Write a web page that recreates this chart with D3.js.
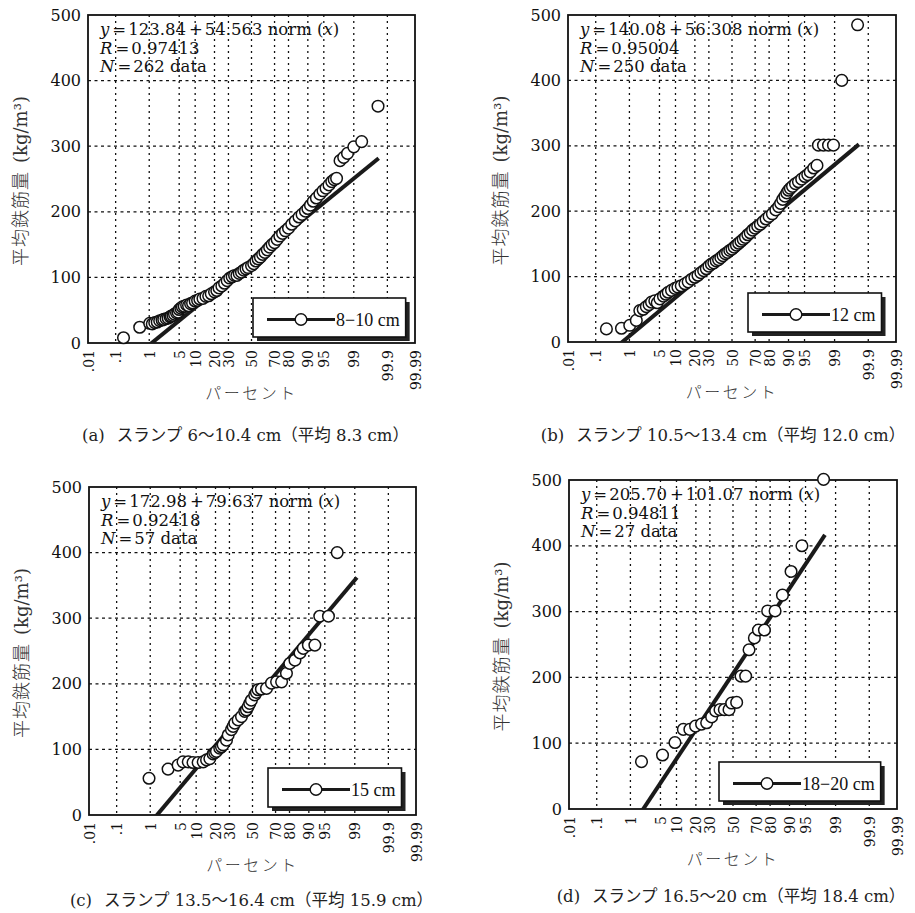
<!DOCTYPE html>
<html lang="ja">
<head>
<meta charset="UTF-8">
<title>平均鉄筋量の正規確率プロット</title>
<script src="https://d3js.org/d3.v7.min.js"></script>
<style>
  body { margin: 0; background: #fff; }
  svg { display: block; }
  .tick text { font-family: "DejaVu Serif", serif; fill: #111; }
</style>
</head>
<body>
<svg id="chart" width="915" height="913"></svg>
<script>
// ---- data ----
const tickPercents = [0.01, 0.1, 1, 5, 10, 20, 30, 50, 70, 80, 90, 95, 99, 99.9, 99.99];
const tickLabels = [".01", ".1", "1", "5", "10", "20", "30", "50", "70", "80", "90", "95", "99", "99.9", "99.99"];
const gridPercents = [0.1, 1, 5, 10, 20, 30, 50, 70, 80, 90, 95, 99, 99.9];
const yTicks = [0, 100, 200, 300, 400, 500];
const yGrid = [100, 200, 300, 400];

const letters = ["a", "b", "c", "d"];
const legendLabels = ["8−10 cm", "12 cm", "15 cm", "18−20 cm"];
const captions = [
  "スランプ 6～10.4 cm（平均 8.3 cm）",
  "スランプ 10.5～13.4 cm（平均 12.0 cm）",
  "スランプ 13.5～16.4 cm（平均 15.9 cm）",
  "スランプ 16.5～20 cm（平均 18.4 cm）"
];
const intercepts = [123.84, 140.08, 172.98, 205.70];
const slopes = [54.563, 56.308, 79.637, 101.07];
const interceptText = ["123.84", "140.08", "172.98", "205.70"];
const slopeText = ["54.563", "56.308", "79.637", "101.07"];
const rValues = ["0.97413", "0.95004", "0.92418", "0.94811"];
const nValues = [262, 250, 57, 27];

// [percent, kg/m3]
const pointsA = [[0.18,8],[0.55,24],[1.03,30],[1.2,29],[1.39,31],[1.6,32],[1.84,34],[2.1,35],[2.3,36],[2.6,37],[2.9,38],[3.2,40],[3.4,41],[3.7,42],[4.0,44],[4.4,46],[4.75,47],[5.0,51],[5.4,53],[5.8,55],[6.3,56],[7,58],[7.6,57],[8.3,60],[9,61],[10,64],[11,65],[12,67],[13.5,68],[15,71],[16.5,72],[18,75],[20,78],[21.5,80],[23,84],[25,87],[27,91],[29,95],[31,99],[33,101],[35,103],[37,103],[39,106],[41,108],[43,111],[45,113],[47,115],[50,118],[52,121],[54,125],[56,128],[58,131],[60,135],[62,138],[64,142],[66,146],[68,150],[70,153],[72,158],[74,163],[76,167],[78,171],[80,175],[82,181],[84,186],[86,192],[87.5,196],[89,201],[90,205],[91,210],[92,216],[93,221],[94,227],[94.8,232],[95.5,236],[96.1,241],[96.6,246],[97.0,249],[97.35,251],[97.8,278],[98.2,283],[98.55,289],[99.0,299],[99.39,307],[99.8,361]];
const pointsB = [[0.22,20],[0.61,21],[1.02,25.5],[1.5,33],[1.83,48],[2.2,50],[2.6,54],[3.0,57],[3.4,61],[4.0,63],[4.5,60],[5.1,66],[6,70],[6.7,73],[7.4,76],[8.5,79],[9.8,82],[11,84],[12.5,86],[14.3,89],[16,92],[18,96],[20,99],[22,102],[24,106],[26,109],[28,112],[30,116],[32,119],[34,121],[36,124],[38,126],[40,129],[42,132],[44,135],[46,137],[48,140],[50,142],[52,145],[54,148],[56,151],[58,154],[60,157],[62,160],[64,164],[66,167],[68,171],[70,174],[72,177],[74,180],[76,184],[78,188],[80,192],[82,196],[84,202],[85.5,207],[86.5,212],[87.5,218],[88.5,223],[89.3,228],[90,232],[90.7,235],[91.5,238],[92.5,242],[93.4,245],[94.3,249],[95.1,253],[95.7,256],[96.2,260],[96.8,266],[97.3,270],[97.5,301],[98.1,301],[98.57,301],[98.93,301],[99.36,400],[99.78,485]];
const pointsC = [[0.93,56],[2.74,70],[4.53,76],[5.7,81],[7.2,81],[8.8,80],[10.8,80],[13.1,81],[14.8,84],[16.6,86],[18.5,93],[19.5,95],[20.6,97],[22.8,102],[24,104],[25.2,107],[27.7,114],[29,122],[31.6,130],[33,135],[34.4,140],[37.2,145],[40.1,150],[43,158],[44.5,160],[46,165],[47.5,170],[49,175],[52,183],[53.5,187],[55,191],[58,192],[62.5,193],[66.7,201],[70.8,203],[74.6,203],[78,216],[80.2,231],[83.3,236],[86,247],[87.6,254],[89.8,259],[92.2,259],[93.7,303],[95.8,303],[97.3,400]];
const pointsD = [[1.9,72],[5.5,82],[9.4,101],[13,121],[16.4,121],[19.8,126],[23.8,129],[27.5,131],[31.4,140],[34.7,149],[38.4,151],[42.2,151],[46.4,151],[48.8,161],[53.3,162],[57.2,202],[61.3,202],[64.2,242],[68.6,260],[71.8,272],[76.2,272],[78.4,301],[83,301],[86.9,325],[90.6,361],[94.1,400],[98,501]];
const series = [pointsA, pointsB, pointsC, pointsD];

// ---- layout ----
const panels = [
  { left: 88, top: 15, right: 415, bottom: 343 },
  { left: 568, top: 15, right: 896, bottom: 342 },
  { left: 89, top: 487, right: 416, bottom: 815 },
  { left: 569, top: 480, right: 897, bottom: 809 }
];
const legendAt = [[253, 298], [748, 293], [268, 768], [719, 762]];
const captionY = [441, 441, 906, 902];
const captionDx = [-6, -9, -1, -2];
const serif = "DejaVu Serif";
const jp = "Noto Sans CJK JP";

// inverse of the standard normal CDF (Acklam)
function probit(p) {
  const a = [-39.69683028665376, 220.9460984245205, -275.9285104469687, 138.3577518672690, -30.66479806614716, 2.506628277459239];
  const b = [-54.47609879822406, 161.5858368580409, -155.6989798598866, 66.80131188771972, -13.28068155288572];
  const c = [-0.007784894002430293, -0.3223964580411365, -2.400758277161838, -2.549732539343734, 4.374664141464968, 2.938163982698783];
  const d = [0.007784695709041462, 0.3224671290700398, 2.445134137142996, 3.754408661907416];
  const pl = 0.02425;
  let q, r;
  if (p < pl) {
    q = Math.sqrt(-2 * Math.log(p));
    return (((((c[0]*q+c[1])*q+c[2])*q+c[3])*q+c[4])*q+c[5]) / ((((d[0]*q+d[1])*q+d[2])*q+d[3])*q+1);
  }
  if (p > 1 - pl) {
    q = Math.sqrt(-2 * Math.log(1 - p));
    return -(((((c[0]*q+c[1])*q+c[2])*q+c[3])*q+c[4])*q+c[5]) / ((((d[0]*q+d[1])*q+d[2])*q+d[3])*q+1);
  }
  q = p - 0.5; r = q * q;
  return (((((a[0]*r+a[1])*r+a[2])*r+a[3])*r+a[4])*r+a[5])*q / (((((b[0]*r+b[1])*r+b[2])*r+b[3])*r+b[4])*r+1);
}

const svg = d3.select("#chart");
svg.append("rect").attr("width", 915).attr("height", 913).attr("fill", "#fff");

// text with italic pieces and padded operators
function richText(parent, x, y, parts, size) {
  const t = parent.append("text").attr("x", x).attr("y", y)
    .attr("font-family", serif).attr("font-size", size).attr("fill", "#111");
  parts.forEach(([s, kind]) => {
    const ts = t.append("tspan").text(s);
    if (kind === "i") ts.attr("font-style", "italic");
    if (kind === "op") ts.attr("dx", 3);
    if (kind === "after") ts.attr("dx", 2);
  });
  return t;
}

panels.forEach((pn, i) => {
  const g = svg.append("g");
  const x = d3.scaleLinear().domain([probit(0.0001), probit(0.9999)]).range([pn.left, pn.right]);
  const y = d3.scaleLinear().domain([0, 500]).range([pn.bottom, pn.top]);
  const px = p => x(probit(p / 100));

  g.append("clipPath").attr("id", "clip" + i)
    .append("rect").attr("x", pn.left).attr("y", pn.top)
    .attr("width", pn.right - pn.left).attr("height", pn.bottom - pn.top);

  // grid
  g.selectAll(".vg").data(gridPercents).join("line")
    .attr("x1", d => px(d)).attr("x2", d => px(d))
    .attr("y1", pn.top).attr("y2", pn.bottom)
    .attr("stroke", "#111").attr("stroke-width", 1.3).attr("stroke-dasharray", "2,4");
  g.selectAll(".hg").data(yGrid).join("line")
    .attr("x1", pn.left).attr("x2", pn.right)
    .attr("y1", d => y(d)).attr("y2", d => y(d))
    .attr("stroke", "#111").attr("stroke-width", 1.3).attr("stroke-dasharray", "3,3.5");

  // axes
  const ya = g.append("g").attr("transform", `translate(${pn.left},0)`)
    .call(d3.axisLeft(y).tickValues(yTicks).tickSize(0).tickPadding(7));
  ya.select(".domain").remove();
  ya.selectAll("text").attr("font-size", 16);

  const xa = g.append("g").attr("transform", `translate(0,${pn.bottom})`)
    .call(d3.axisBottom(x).tickValues(tickPercents.map(p => probit(p / 100)))
      .tickFormat((d, k) => tickLabels[k]).tickSize(0));
  xa.select(".domain").remove();
  xa.selectAll("text").attr("font-size", 14)
    .attr("transform", "rotate(-90)").attr("text-anchor", "end")
    .attr("x", -7).attr("y", 0).attr("dy", "0.36em");

  // frame
  g.append("rect").attr("x", pn.left).attr("y", pn.top)
    .attr("width", pn.right - pn.left).attr("height", pn.bottom - pn.top)
    .attr("fill", "none").attr("stroke", "#111").attr("stroke-width", 1.8);

  // fitted line between first and last plotting positions
  const n = nValues[i];
  const z0 = probit(0.5 / n), z1 = probit(1 - 0.5 / n);
  g.append("line").attr("clip-path", `url(#clip${i})`)
    .attr("x1", x(z0)).attr("y1", y(intercepts[i] + slopes[i] * z0))
    .attr("x2", x(z1)).attr("y2", y(intercepts[i] + slopes[i] * z1))
    .attr("stroke", "#1a1a1a").attr("stroke-width", 4);

  // points
  g.selectAll("circle.pt").data(series[i]).join("circle")
    .attr("class", "pt")
    .attr("cx", d => px(d[0])).attr("cy", d => y(d[1])).attr("r", 5.8)
    .attr("fill", "#fff").attr("stroke", "#111").attr("stroke-width", 1.5);

  // equation block
  const ex = pn.left + 12, ey = pn.top + 20;
  richText(g, ex, ey, [["y", "i"], ["=", "op"], [interceptText[i], "after"], ["+", "op"], [slopeText[i] + " norm (", "after"], ["x", "i"], [")"]], 16.5);
  richText(g, ex, ey + 18.6, [["R", "i"], ["=", "op"], [rValues[i], "after"]], 16.5);
  richText(g, ex, ey + 37.2, [["N", "i"], ["=", "op"], [nValues[i] + " data", "after"]], 16.5);

  // legend
  const [lx, ly] = legendAt[i];
  const lh = 39;
  const lg = g.append("g");
  const shadow = lg.append("rect").attr("x", lx + 4).attr("y", ly + 4).attr("height", lh).attr("fill", "#222");
  const box = lg.append("rect").attr("x", lx).attr("y", ly).attr("height", lh)
    .attr("fill", "#fff").attr("stroke", "#111").attr("stroke-width", 1.6);
  const lx0 = lx + 14, lx1 = lx0 + 68, lcy = ly + lh / 2 + 2;
  lg.append("line").attr("x1", lx0).attr("x2", lx1).attr("y1", lcy).attr("y2", lcy)
    .attr("stroke", "#1a1a1a").attr("stroke-width", 3);
  lg.append("circle").attr("cx", (lx0 + lx1) / 2).attr("cy", lcy).attr("r", 5.8)
    .attr("fill", "#fff").attr("stroke", "#111").attr("stroke-width", 1.4);
  const lt = lg.append("text").attr("x", lx1 + 1).attr("y", lcy + 6.5)
    .attr("font-family", "Liberation Serif").attr("font-size", 18).attr("fill", "#111")
    .text(legendLabels[i]);
  const bw = lx1 + 1 + lt.node().getComputedTextLength() + 6 - lx;
  box.attr("width", bw);
  shadow.attr("width", bw);

  // axis titles
  const cy = (pn.top + pn.bottom) / 2;
  const yt = g.append("text")
    .attr("transform", `translate(${pn.left - 67},${cy + 2}) rotate(-90)`)
    .attr("text-anchor", "middle").attr("dy", "0.36em")
    .attr("font-family", `${serif}, ${jp}`).attr("font-size", 18).attr("fill", "#333");
  yt.append("tspan").attr("font-family", jp).attr("font-weight", 300)
    .attr("letter-spacing", 1).text("平均鉄筋量");
  yt.append("tspan").attr("dx", 8).text("(kg/m³)");

  g.append("text").attr("x", (pn.left + pn.right) / 2).attr("y", pn.bottom + 56)
    .attr("text-anchor", "middle").attr("font-family", jp).attr("font-weight", 300)
    .attr("font-size", 16).attr("letter-spacing", 2.5).attr("fill", "#333")
    .text("パーセント");

  const cap = g.append("text").attr("x", (pn.left + pn.right) / 2 + captionDx[i]).attr("y", captionY[i])
    .attr("text-anchor", "middle").attr("font-family", `${serif}, ${jp}`)
    .attr("font-size", 16.5).attr("fill", "#222");
  cap.append("tspan").text(`(${letters[i]})`);
  cap.append("tspan").attr("dx", 12).text(captions[i]);
});
</script>
</body>
</html>
